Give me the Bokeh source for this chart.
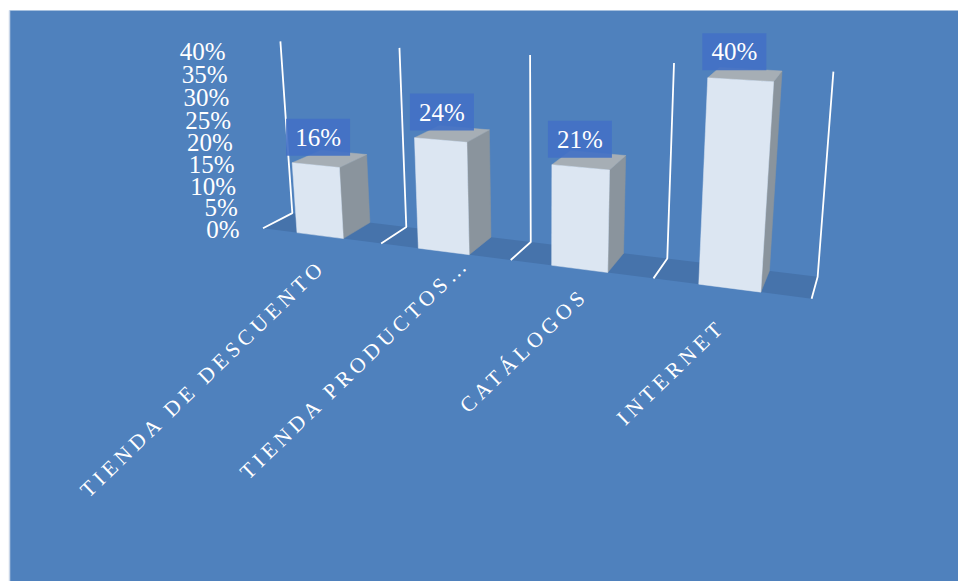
import numpy as np
from bokeh.core.properties import value
from bokeh.embed import file_html
from bokeh.events import DocumentReady
from bokeh.io import curdoc
from bokeh.models import CustomJS
from bokeh.plotting import figure
from bokeh.resources import INLINE

# Chart data
categories = ["TIENDA DE DESCUENTO", "TIENDA PRODUCTOS…", "CATÁLOGOS", "INTERNET"]
shares = [16, 24, 21, 40]
share_labels = ["16%", "24%", "21%", "40%"]
axis_ticks = [0, 5, 10, 15, 20, 25, 30, 35, 40]
axis_tick_labels = ["0%", "5%", "10%", "15%", "20%", "25%", "30%", "35%", "40%"]

# Perspective camera: (category position, depth, share) to page position
CAMERA = np.array([
    [101.324583, 42.862779, -0.636840, 262.492920],
    [4.431561, -5.227525, -4.498445, 227.750037],
    [-0.0441743, 0.0463649, -0.0011715, 1.0],
])
BAR_START, BAR_END = 0.297, 0.69
WALL_HEIGHT = 40.4

PANEL = "#4f81bd"
FLOOR = "#4673ab"
BAR_FRONT = "#dce6f2"
BAR_SIDE = "#8a949d"
BAR_TOP = "#a6aeb5"
LABEL_BOX = "#4371c5"
SERIF = value("Liberation Serif")


def project(cat, depth, share):
    h = CAMERA @ np.array([cat, depth, share, 1.0])
    return h[0] / h[2], h[1] / h[2]


def face(corners):
    xs, ys = zip(*(project(*c) for c in corners))
    return list(xs), list(ys)


p = figure(width=958, height=581, x_range=(0, 958), y_range=(581, 0),
           output_backend="svg", toolbar_location=None, min_border=0,
           outline_line_color=None, background_fill_color="white",
           border_fill_color="white")
p.axis.visible = False
p.grid.visible = False

# Panel background with its pale left edge
p.quad(left=[9], right=[958], top=[10], bottom=[581], fill_color=PANEL, line_color=None)
p.segment([9], [10], [9], [581], line_color="#c9d6e8", line_width=1.5)

# Floor of the chart box
n = len(categories)
fx, fy = face([(0, 0, 0), (0, 1, 0), (n, 1, 0), (n, 0, 0)])
p.patch(fx, fy, fill_color=FLOOR, line_color=None)

# Category dividers: across the floor, then up the back wall
for i in range(n + 1):
    lx, ly = face([(i, 0, 0), (i, 1, 0), (i, 1, WALL_HEIGHT)])
    p.line(lx, ly, line_color="white", line_width=1.8)

# Bars: three visible faces each
for i, v in enumerate(shares):
    a, b = i + BAR_START, i + BAR_END
    for corners, color in (
        ([(b, 0, 0), (b, 1, 0), (b, 1, v), (b, 0, v)], BAR_SIDE),
        ([(a, 0, v), (a, 1, v), (b, 1, v), (b, 0, v)], BAR_TOP),
        ([(a, 0, 0), (b, 0, 0), (b, 0, v), (a, 0, v)], BAR_FRONT),
    ):
        xs, ys = face(corners)
        p.patch(xs, ys, fill_color=color, line_color=color, line_width=0.5)

# Value labels on their boxes, set above the front top edge of each bar
label_dx = [2.5, 1.5, -0.5, -6]
label_rise = 28
for i, (v, text) in enumerate(zip(shares, share_labels)):
    x, y = project(i + (BAR_START + BAR_END) / 2, 0, v)
    x += label_dx[i]
    y -= label_rise
    p.rect([x], [y], width=64, height=37, fill_color=LABEL_BOX, fill_alpha=0.92, line_color=None)
    p.text([x], [y], text=[text], text_font=SERIF, text_font_size="25px", text_color="white",
           text_align="center", text_baseline="middle")

# Share axis labels follow the front left corner of the box
tick_pos = [project(0, 0, t) for t in axis_ticks]
p.text([q[0] - 23.5 for q in tick_pos], [q[1] + 1 for q in tick_pos], text=axis_tick_labels,
       text_font=SERIF, text_font_size="25px", text_color="white",
       text_align="right", text_baseline="middle")

# Slanted category labels, starting down and left of each bar
label_start_dx = [-236, -200, -116, -109]
label_start_dy = [258, 224, 140, 133]
feet = [project(i + (BAR_START + BAR_END) / 2, 0, 0) for i in range(n)]
p.text([q[0] + dx for q, dx in zip(feet, label_start_dx)],
       [q[1] + dy for q, dy in zip(feet, label_start_dy)],
       text=categories, angle=np.deg2rad(44), text_font=SERIF, text_font_size="21.5px",
       text_color="white", text_align="left", text_baseline="middle")

# Wide tracking on the category labels only
spacing = CustomJS(args=dict(names=categories), code="""
    const apply = (root) => {
        for (const el of root.querySelectorAll('*')) {
            if (el.shadowRoot) apply(el.shadowRoot);
            if (el.tagName.toLowerCase() === 'text' && names.includes(el.textContent)) {
                el.style.letterSpacing = '4.5px';
            }
        }
    };
    const run = () => apply(document.body);
    run();
    setTimeout(run, 50);
    setTimeout(run, 300);
""")
curdoc().js_on_event(DocumentReady, spacing)
curdoc().add_root(p)

open("out.html", "w").write(file_html(curdoc(), INLINE))
